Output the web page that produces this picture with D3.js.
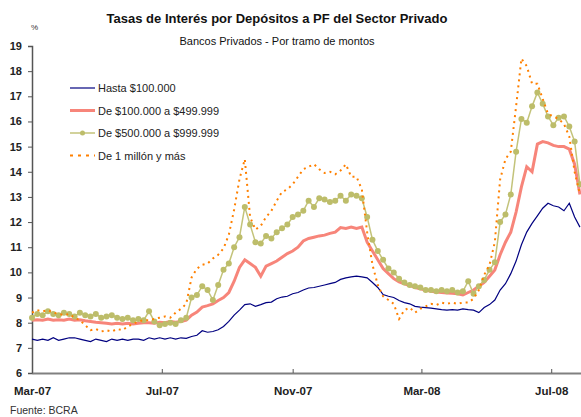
<!DOCTYPE html>
<html lang="es">
<head>
  <meta charset="UTF-8" />
  <title>Tasas de Interés por Depósitos a PF</title>
  <script src="https://d3js.org/d3.v7.min.js"></script>
  <style>
    body { margin: 0; background: white; font-family: "Liberation Sans", Arial, sans-serif; }
    svg { display: block; }
    .tick-y { font-size: 11px; font-weight: bold; fill: #222; }
    .tick-x { font-size: 11.5px; font-weight: bold; fill: #222; }
    .legend { font-size: 11px; fill: #222; }
  </style>
</head>
<body>
  <svg width="581" height="417"></svg>

  <script>
    // observation dates: every 5 days, Mar-07 to end of Jul-08
    const dates = d3.timeDay.range(new Date(2007, 2, 1), new Date(2008, 6, 29), 5);

    const hasta100 = [
      7.35,7.3,7.35,7.3,7.4,7.3,7.35,7.4,7.4,7.35,
      7.3,7.25,7.35,7.3,7.25,7.35,7.3,7.35,7.3,7.35,
      7.35,7.3,7.4,7.35,7.4,7.35,7.4,7.35,7.4,7.38,
      7.45,7.5,7.68,7.62,7.65,7.72,7.85,8.05,8.3,8.5,
      8.72,8.75,8.65,8.72,8.8,8.82,8.95,9.02,9.05,9.15,
      9.2,9.3,9.38,9.4,9.45,9.5,9.55,9.6,9.72,9.78,
      9.82,9.85,9.82,9.78,9.6,9.4,9.12,9.05,9.0,8.88,
      8.8,8.75,8.65,8.62,8.6,8.58,8.55,8.52,8.5,8.52,
      8.5,8.55,8.52,8.5,8.4,8.6,8.72,8.9,9.3,9.55,
      9.95,10.45,11.1,11.6,11.95,12.25,12.55,12.75,12.65,12.6,
      12.45,12.75,12.2,11.8
    ];

    const de100a499 = [
      8.1,8.12,8.1,8.15,8.1,8.12,8.1,8.15,8.1,8.12,
      8.08,8.05,8.02,8.0,7.98,7.95,7.98,7.95,7.98,7.95,
      7.98,8.0,8.0,7.98,8.02,8.0,8.05,8.02,8.05,8.1,
      8.3,8.42,8.62,8.68,8.75,8.88,9.0,9.2,9.65,10.2,
      10.5,10.35,10.2,9.85,10.25,10.35,10.45,10.6,10.75,10.85,
      11.0,11.25,11.35,11.4,11.45,11.48,11.55,11.6,11.78,11.75,
      11.8,11.75,11.8,11.2,10.85,10.5,10.15,9.95,9.75,9.62,
      9.55,9.48,9.4,9.35,9.3,9.25,9.22,9.2,9.18,9.17,
      9.15,9.1,9.2,9.3,9.45,9.6,9.85,10.1,10.7,11.2,
      11.6,12.4,13.4,14.2,14.0,15.1,15.2,15.15,15.05,15.0,
      15.0,14.9,14.3,13.1
    ];

    const de500a999 = [
      8.2,8.35,8.3,8.45,8.35,8.3,8.4,8.35,8.25,8.4,
      8.3,8.25,8.35,8.2,8.25,8.3,8.2,8.15,8.2,8.1,
      8.15,8.1,8.45,8.05,7.9,7.95,8.0,7.95,8.1,8.2,
      9.0,9.1,9.45,9.3,8.9,9.5,10.1,10.35,11.0,11.4,
      12.6,11.9,11.2,11.15,11.45,11.35,11.6,11.75,11.9,12.2,
      12.3,12.45,12.85,12.6,12.95,12.9,12.8,12.85,13.05,12.85,
      13.1,13.05,12.95,12.2,11.3,10.85,10.5,10.15,10.0,9.75,
      9.6,9.5,9.45,9.4,9.3,9.3,9.25,9.3,9.25,9.3,
      9.2,9.25,9.65,9.15,9.45,9.7,10.1,10.4,12.0,12.3,
      13.1,14.8,16.1,15.95,16.6,17.15,16.7,16.2,15.85,16.15,
      16.2,15.8,15.2,13.5
    ];

    const unMillon = [
      8.4,8.5,8.45,8.5,8.4,8.35,8.3,8.35,8.2,8.1,
      7.9,7.7,7.75,7.65,7.7,7.65,7.75,7.7,7.85,7.95,
      8.05,8.1,8.1,8.15,8.2,8.25,8.2,8.4,8.55,8.75,
      9.8,10.15,10.3,10.35,10.55,10.7,10.95,11.5,12.5,13.7,
      14.5,12.2,11.7,11.85,12.2,12.45,12.85,13.2,13.3,13.5,
      13.8,14.1,14.2,14.3,14.1,13.95,14.0,13.9,14.05,14.3,
      13.8,13.8,13.3,11.6,10.3,9.5,9.05,8.9,8.75,8.15,
      8.5,8.6,8.4,8.55,8.65,8.75,8.7,8.8,8.75,8.8,
      8.75,8.8,8.8,8.95,9.3,9.9,10.3,11.2,13.7,14.5,
      14.8,16.6,18.5,18.2,17.5,17.5,16.9,16.3,16.2,16.1,
      15.9,15.4,14.0,13.1
    ];

    const seriesNames = ["Hasta $100.000", "De $100.000 a $499.999", "De $500.000 a $999.999", "De 1 millón y más"];
    const xTickDates = ["2007-03-01", "2007-07-01", "2007-11-01", "2008-03-01", "2008-07-01"];
    const xTickLabels = ["Mar-07", "Jul-07", "Nov-07", "Mar-08", "Jul-08"];
    const yTicks = [6, 7, 8, 9, 10, 11, 12, 13, 14, 15, 16, 17, 18, 19];

    const svg = d3.select("svg");
    const plotLeft = 32, plotRight = 581, plotTop = 46, plotBottom = 373;

    const x = d3.scaleTime()
      .domain([new Date(2007, 2, 1), new Date(2008, 6, 29)])
      .range([plotLeft, plotRight]);
    const y = d3.scaleLinear().domain([6, 19]).range([plotBottom, plotTop]);

    // titles
    svg.append("text").attr("x", 277).attr("y", 23).attr("text-anchor", "middle")
      .style("font-size", "13px").style("font-weight", "bold").attr("fill", "#111")
      .text("Tasas de Interés por Depósitos a PF del Sector Privado");
    svg.append("text").attr("x", 277).attr("y", 45).attr("text-anchor", "middle")
      .style("font-size", "11px").attr("fill", "#111")
      .text("Bancos Privados - Por tramo de montos");
    svg.append("text").attr("x", 31).attr("y", 30)
      .style("font-size", "8px").attr("fill", "#333").text("%");
    svg.append("text").attr("x", 10).attr("y", 414)
      .style("font-size", "10.5px").attr("fill", "#333").text("Fuente: BCRA");

    // y axis
    const yAxis = svg.append("g")
      .attr("transform", `translate(${plotLeft},0)`)
      .call(d3.axisLeft(y).tickValues(yTicks).tickSize(4).tickPadding(6).tickFormat(d3.format("d")));
    yAxis.select(".domain").attr("stroke", "#555").attr("stroke-width", 1.5);
    yAxis.selectAll(".tick line").attr("stroke", "#555");
    yAxis.selectAll(".tick text").attr("class", "tick-y").attr("font-family", null).attr("font-size", null);

    // x axis
    const xAxis = svg.append("g")
      .attr("transform", `translate(0,${plotBottom})`)
      .call(d3.axisBottom(x)
        .tickValues(xTickDates.map(d => d3.timeParse("%Y-%m-%d")(d)))
        .tickSizeInner(-4).tickSizeOuter(0).tickPadding(14)
        .tickFormat((d, i) => xTickLabels[i]));
    xAxis.select(".domain").attr("stroke", "#808080").attr("stroke-width", 2);
    xAxis.selectAll(".tick line").attr("stroke", "#555");
    xAxis.selectAll(".tick text").attr("class", "tick-x").attr("font-family", null).attr("font-size", null);

    const line = d3.line().x((d, i) => x(dates[i])).y(d => y(d));

    svg.append("path").datum(hasta100)
      .attr("fill", "none").attr("stroke", "#000080").attr("stroke-width", 1.2)
      .attr("d", line);

    svg.append("path").datum(de100a499)
      .attr("fill", "none").attr("stroke", "#F7857A").attr("stroke-width", 3)
      .attr("d", line);

    svg.append("path").datum(de500a999)
      .attr("fill", "none").attr("stroke", "#C3C37A").attr("stroke-width", 1.5)
      .attr("d", line);
    svg.append("g").selectAll("circle")
      .data(de500a999)
      .enter()
      .append("circle")
      .attr("cx", (d, i) => x(dates[i]))
      .attr("cy", d => y(d))
      .attr("r", 3)
      .attr("fill", "#BDBD6A");

    svg.append("path").datum(unMillon)
      .attr("fill", "none").attr("stroke", "#FF8000").attr("stroke-width", 2)
      .attr("stroke-dasharray", "2,4")
      .attr("d", line);

    // legend
    const legendStyles = [
      { color: "#000080", width: 1.2, dash: null, marker: false },
      { color: "#F7857A", width: 3, dash: null, marker: false },
      { color: "#C3C37A", width: 1.5, dash: null, marker: true },
      { color: "#FF8000", width: 2, dash: "3,5", marker: false }
    ];
    const legend = svg.append("g").attr("transform", "translate(70,88)");
    seriesNames.forEach((name, i) => {
      const s = legendStyles[i];
      const row = legend.append("g").attr("transform", `translate(0,${i * 22.5})`);
      row.append("line").attr("x1", 0).attr("x2", 25).attr("y1", 0).attr("y2", 0)
        .attr("stroke", s.color).attr("stroke-width", s.width)
        .attr("stroke-dasharray", s.dash);
      if (s.marker) row.append("circle").attr("cx", 12.5).attr("cy", 0).attr("r", 2.5).attr("fill", "#BDBD6A");
      row.append("text").attr("class", "legend").attr("x", 28).attr("y", 4).text(name);
    });
  </script>
</body>
</html>
